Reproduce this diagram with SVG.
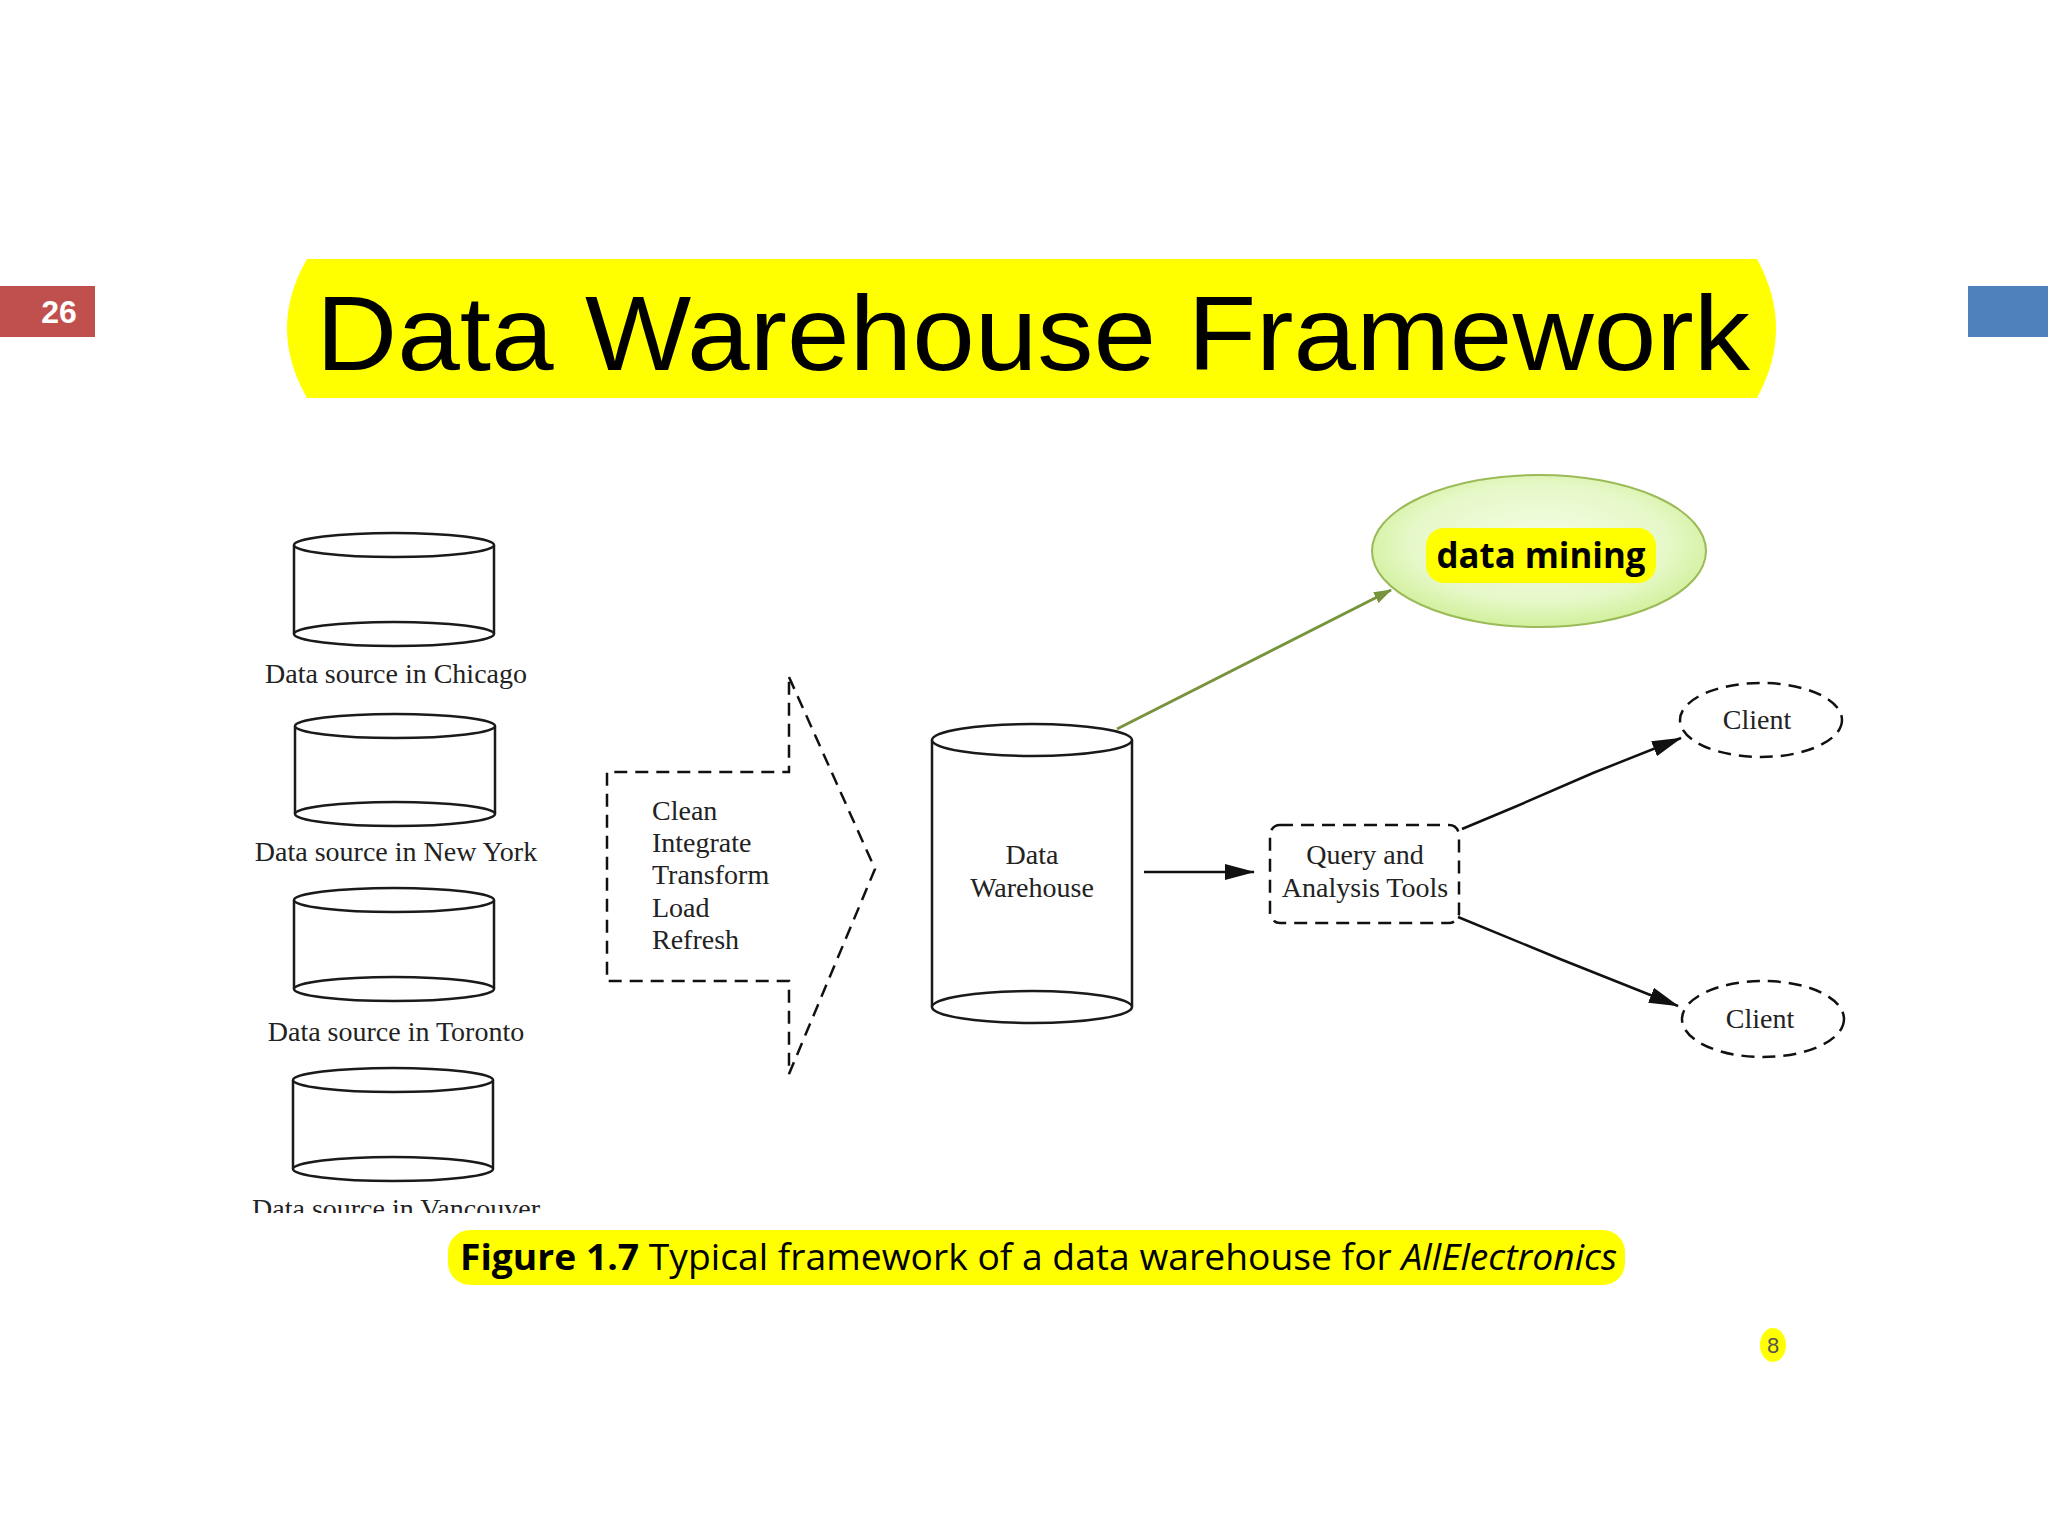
<svg xmlns="http://www.w3.org/2000/svg" width="2048" height="1536" viewBox="0 0 2048 1536">
<defs>
<style>
.cyl{fill:#fff;stroke:#1a1a1a;stroke-width:2.5}
.lbl{font-family:"Liberation Serif","Times New Roman",serif;font-size:28px;fill:#222}
.dash{fill:none;stroke:#111;stroke-width:2.5;stroke-dasharray:13 8}
.conn{fill:none;stroke:#111;stroke-width:2.5}
</style>
<marker id="ahb" viewBox="0 0 30 16" refX="29" refY="8" markerWidth="30" markerHeight="16" orient="auto" markerUnits="userSpaceOnUse">
<path d="M0,0 L30,8 L0,16 Z" fill="#111"/>
</marker>
<marker id="ahg" viewBox="0 0 18 12" refX="17" refY="6" markerWidth="18" markerHeight="12" orient="auto" markerUnits="userSpaceOnUse">
<path d="M0,0 L18,6 L0,12 Z" fill="#77933C"/>
</marker>
<radialGradient id="gm" cx="50%" cy="45%" r="55%">
<stop offset="0" stop-color="#f4fde6"/>
<stop offset="0.7" stop-color="#e6f8c8"/>
<stop offset="1" stop-color="#d2f09c"/>
</radialGradient>
<clipPath id="cut"><rect x="0" y="0" width="2048" height="1213"/></clipPath>
</defs>
<rect width="2048" height="1536" fill="#fff"/>

<g id="slide-number">
<rect x="0" y="286" width="95" height="51" fill="#C0504D"/>
<text x="59" y="323" text-anchor="middle" font-family="Liberation Sans,Arial,sans-serif" font-weight="bold" font-size="32" fill="#fff">26</text>
</g>
<rect id="blue-tab" x="1968" y="286" width="80" height="51" fill="#4F81BD"/>

<g id="title">
<path d="M307,259 L1757,259 Q1795,328 1757,398 L307,398 Q267,328 307,259 Z" fill="#FFFF00"/>
<text x="316" y="370" font-family="Liberation Sans,Arial,sans-serif" font-size="106" fill="#000" textLength="1434" lengthAdjust="spacingAndGlyphs">Data Warehouse Framework</text>
</g>

<g id="src-chicago">
<path class="cyl" d="M294,545 L294,634 A100,12 0 0 0 494,634 L494,545"/>
<ellipse class="cyl" cx="394" cy="545" rx="100" ry="12"/>
<path class="cyl" d="M294,634 A100,12 0 0 1 494,634" fill="none"/>
<text class="lbl" x="396" y="683" text-anchor="middle">Data source in Chicago</text>
</g>
<g id="src-newyork">
<path class="cyl" d="M295,726 L295,814 A100,12 0 0 0 495,814 L495,726"/>
<ellipse class="cyl" cx="395" cy="726" rx="100" ry="12"/>
<path class="cyl" d="M295,814 A100,12 0 0 1 495,814" fill="none"/>
<text class="lbl" x="396" y="861" text-anchor="middle">Data source in New York</text>
</g>
<g id="src-toronto">
<path class="cyl" d="M294,900 L294,989 A100,12 0 0 0 494,989 L494,900"/>
<ellipse class="cyl" cx="394" cy="900" rx="100" ry="12"/>
<path class="cyl" d="M294,989 A100,12 0 0 1 494,989" fill="none"/>
<text class="lbl" x="396" y="1041" text-anchor="middle">Data source in Toronto</text>
</g>
<g id="src-vancouver">
<path class="cyl" d="M293,1080 L293,1169 A100,12 0 0 0 493,1169 L493,1080"/>
<ellipse class="cyl" cx="393" cy="1080" rx="100" ry="12"/>
<path class="cyl" d="M293,1169 A100,12 0 0 1 493,1169" fill="none"/>
<text class="lbl" x="396" y="1218" text-anchor="middle" clip-path="url(#cut)">Data source in Vancouver</text>
</g>

<g id="etl">
<path class="dash" d="M789,677 L875,869 L789,1074 L789,981 L607,981 L607,772 L789,772 Z"/>
<text class="lbl" x="652" y="820">Clean</text>
<text class="lbl" x="652" y="852">Integrate</text>
<text class="lbl" x="652" y="884">Transform</text>
<text class="lbl" x="652" y="917">Load</text>
<text class="lbl" x="652" y="949">Refresh</text>
</g>

<g id="data-warehouse">
<path class="cyl" d="M932,740 L932,1007 A100,16 0 0 0 1132,1007 L1132,740"/>
<ellipse class="cyl" cx="1032" cy="740" rx="100" ry="16"/>
<path class="cyl" d="M932,1007 A100,16 0 0 1 1132,1007" fill="none"/>
<text class="lbl" x="1032" y="864" text-anchor="middle">Data</text>
<text class="lbl" x="1032" y="897" text-anchor="middle">Warehouse</text>
</g>

<g id="query-tools">
<rect class="dash" x="1270" y="825" width="189" height="98" rx="10"/>
<text class="lbl" x="1365" y="864" text-anchor="middle">Query and</text>
<text class="lbl" x="1365" y="897" text-anchor="middle">Analysis Tools</text>
</g>

<g id="client-1">
<ellipse class="dash" cx="1761" cy="720" rx="81" ry="37"/>
<text class="lbl" x="1757" y="729" text-anchor="middle">Client</text>
</g>
<g id="client-2">
<ellipse class="dash" cx="1763" cy="1019" rx="81" ry="38"/>
<text class="lbl" x="1760" y="1028" text-anchor="middle">Client</text>
</g>

<g id="data-mining">
<ellipse cx="1539" cy="551" rx="167" ry="76" fill="url(#gm)" stroke="#9BBB59" stroke-width="2"/>
<rect x="1426" y="528" width="230" height="55" rx="18" fill="#FFFF00"/>
<text x="1541" y="568" text-anchor="middle" font-family="Open Sans,Liberation Sans,sans-serif" font-weight="bold" font-size="36" fill="#000" textLength="209" lengthAdjust="spacingAndGlyphs">data mining</text>
</g>

<g id="connectors">
<line x1="1117" y1="729" x2="1391" y2="590" stroke="#77933C" stroke-width="3" marker-end="url(#ahg)"/>
<line class="conn" x1="1144" y1="872" x2="1254" y2="872" marker-end="url(#ahb)"/>
<path class="conn" d="M1462,829 L1517,806 L1593,773 L1681,738" marker-end="url(#ahb)"/>
<path class="conn" d="M1458,917 L1560,959 L1678,1006" marker-end="url(#ahb)"/>
</g>

<g id="caption">
<rect x="448" y="1230" width="1177" height="55" rx="22" fill="#FFFF00"/>
<text x="460" y="1270" font-family="Open Sans,Liberation Sans,sans-serif" font-size="36" fill="#000" textLength="1157" lengthAdjust="spacingAndGlyphs"><tspan font-weight="bold">Figure 1.7</tspan> Typical framework of a data warehouse for <tspan font-style="italic">AllElectronics</tspan></text>
</g>

<g id="page-number">
<ellipse cx="1773" cy="1345" rx="13" ry="17" fill="#FFFF00"/>
<text x="1773" y="1353" text-anchor="middle" font-family="Liberation Sans,Arial,sans-serif" font-size="22" fill="#555">8</text>
</g>
</svg>
